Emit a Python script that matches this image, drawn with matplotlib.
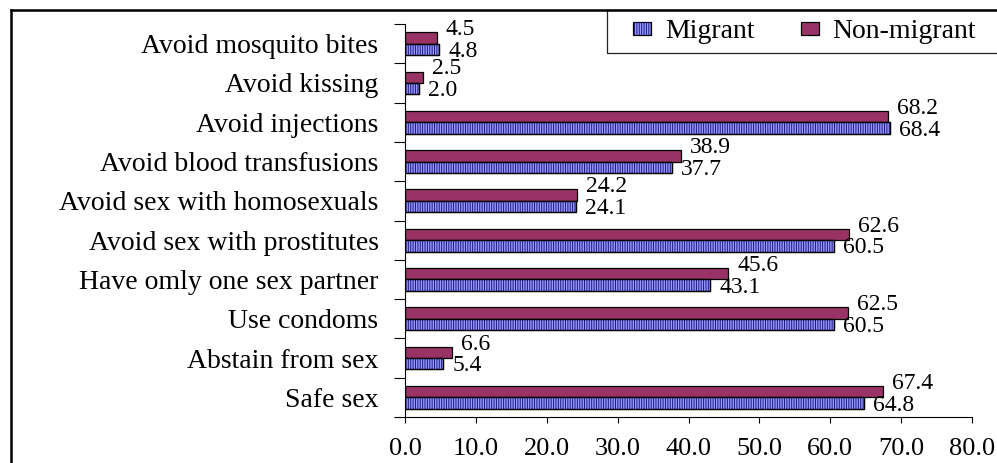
import numpy as np
import matplotlib
matplotlib.use("Agg")
import matplotlib.pyplot as plt
from matplotlib.patches import Patch, Rectangle
from matplotlib.lines import Line2D
from matplotlib.ticker import FormatStrFormatter, FixedLocator

categories = ["Avoid mosquito bites", "Avoid kissing", "Avoid injections",
              "Avoid blood transfusions", "Avoid sex with homosexuals",
              "Avoid sex with prostitutes", "Have omly one sex partner",
              "Use condoms", "Abstain from sex", "Safe sex"]
migrant = [4.8, 2.0, 68.4, 37.7, 24.1, 60.5, 43.1, 60.5, 5.4, 64.8]
non_migrant = [4.5, 2.5, 68.2, 38.9, 24.2, 62.6, 45.6, 62.5, 6.6, 67.4]
x_ticks = [0, 10, 20, 30, 40, 50, 60, 70, 80]

plt.rcParams['font.family'] = ['Liberation Serif', 'DejaVu Serif']
plt.rcParams['hatch.linewidth'] = 0.7

W, H = 997, 463
fig = plt.figure(figsize=(W / 100, H / 100), dpi=100)
fig.patch.set_facecolor('white')
ax = fig.add_axes([405 / W, 1 - 417 / H, (972 - 405) / W, (417 - 24) / H])

MAROON = '#993366'
BLUE = '#9999ff'
NAVY = '#1a1a80'
bh = 0.29
y = np.arange(len(categories))

ax.barh(y - bh / 2, non_migrant, height=bh, color=MAROON, edgecolor='black', linewidth=0.9, zorder=2)
ax.barh(y + bh / 2, migrant, height=bh, color=BLUE, edgecolor='black', linewidth=0.9, zorder=2)
ax.barh(y + bh / 2, migrant, height=bh, color='none', edgecolor=NAVY, linewidth=0, hatch='|' * 7, zorder=3)
ax.barh(y + bh / 2, migrant, height=bh, color='none', edgecolor='black', linewidth=0.9, zorder=4)

for yi, v in zip(y, non_migrant):
    ax.annotate(f"{v:.1f}", (v, yi - bh / 2), xytext=(6.5, 6), textcoords='offset points',
                ha='left', va='center', fontsize=17)
for yi, v in zip(y, migrant):
    ax.annotate(f"{v:.1f}", (v, yi + bh / 2), xytext=(6.5, -1.5), textcoords='offset points',
                ha='left', va='center', fontsize=17)

ax.set_xlim(0, 80)
ax.set_ylim(len(categories) - 0.5, -0.5)
ax.set_xticks(x_ticks)
ax.xaxis.set_major_formatter(FormatStrFormatter('%.1f'))
ax.set_yticks(y)
ax.set_yticklabels(categories, fontsize=20)
ax.yaxis.set_minor_locator(FixedLocator(np.arange(-0.5, len(categories), 1.0)))
ax.tick_params(axis='y', which='major', length=0, pad=19)
ax.tick_params(axis='y', which='minor', length=8, width=0.8, direction='out')
ax.tick_params(axis='x', which='major', length=4.3, width=0.8, direction='out', pad=11, labelsize=19)
for s in ['top', 'right']:
    ax.spines[s].set_visible(False)
for s in ['left', 'bottom']:
    ax.spines[s].set_linewidth(0.8)

# legend
h_mig = (Patch(facecolor=BLUE, edgecolor='black', linewidth=0.9),
         Patch(facecolor='none', edgecolor=NAVY, linewidth=0, hatch='|' * 7))
h_non = Patch(facecolor=MAROON, edgecolor='black', linewidth=0.9)
fig.legend([h_mig, h_non], ["Migrant", "Non-migrant"], loc='center left',
           bbox_to_anchor=(633 / W, 1 - 32 / H), ncol=2, frameon=False, fontsize=20,
           borderpad=0, borderaxespad=0, handlelength=0.65, handleheight=0.38,
           handletextpad=0.5, columnspacing=1.66)

fig.add_artist(Rectangle((607 / W, 1 - 53 / H), (1005 - 607) / W, 43 / H,
                         transform=fig.transFigure, fill=False, edgecolor='#222222', linewidth=0.9))
# outer frame (left and top edges visible)
fig.add_artist(Line2D([11 / W, 11 / W], [0, 1 - 10 / H], transform=fig.transFigure, color='black', linewidth=1.8))
fig.add_artist(Line2D([11 / W, 1], [1 - 10 / H, 1 - 10 / H], transform=fig.transFigure, color='black', linewidth=1.8))

fig.savefig("out.png", dpi=100)
